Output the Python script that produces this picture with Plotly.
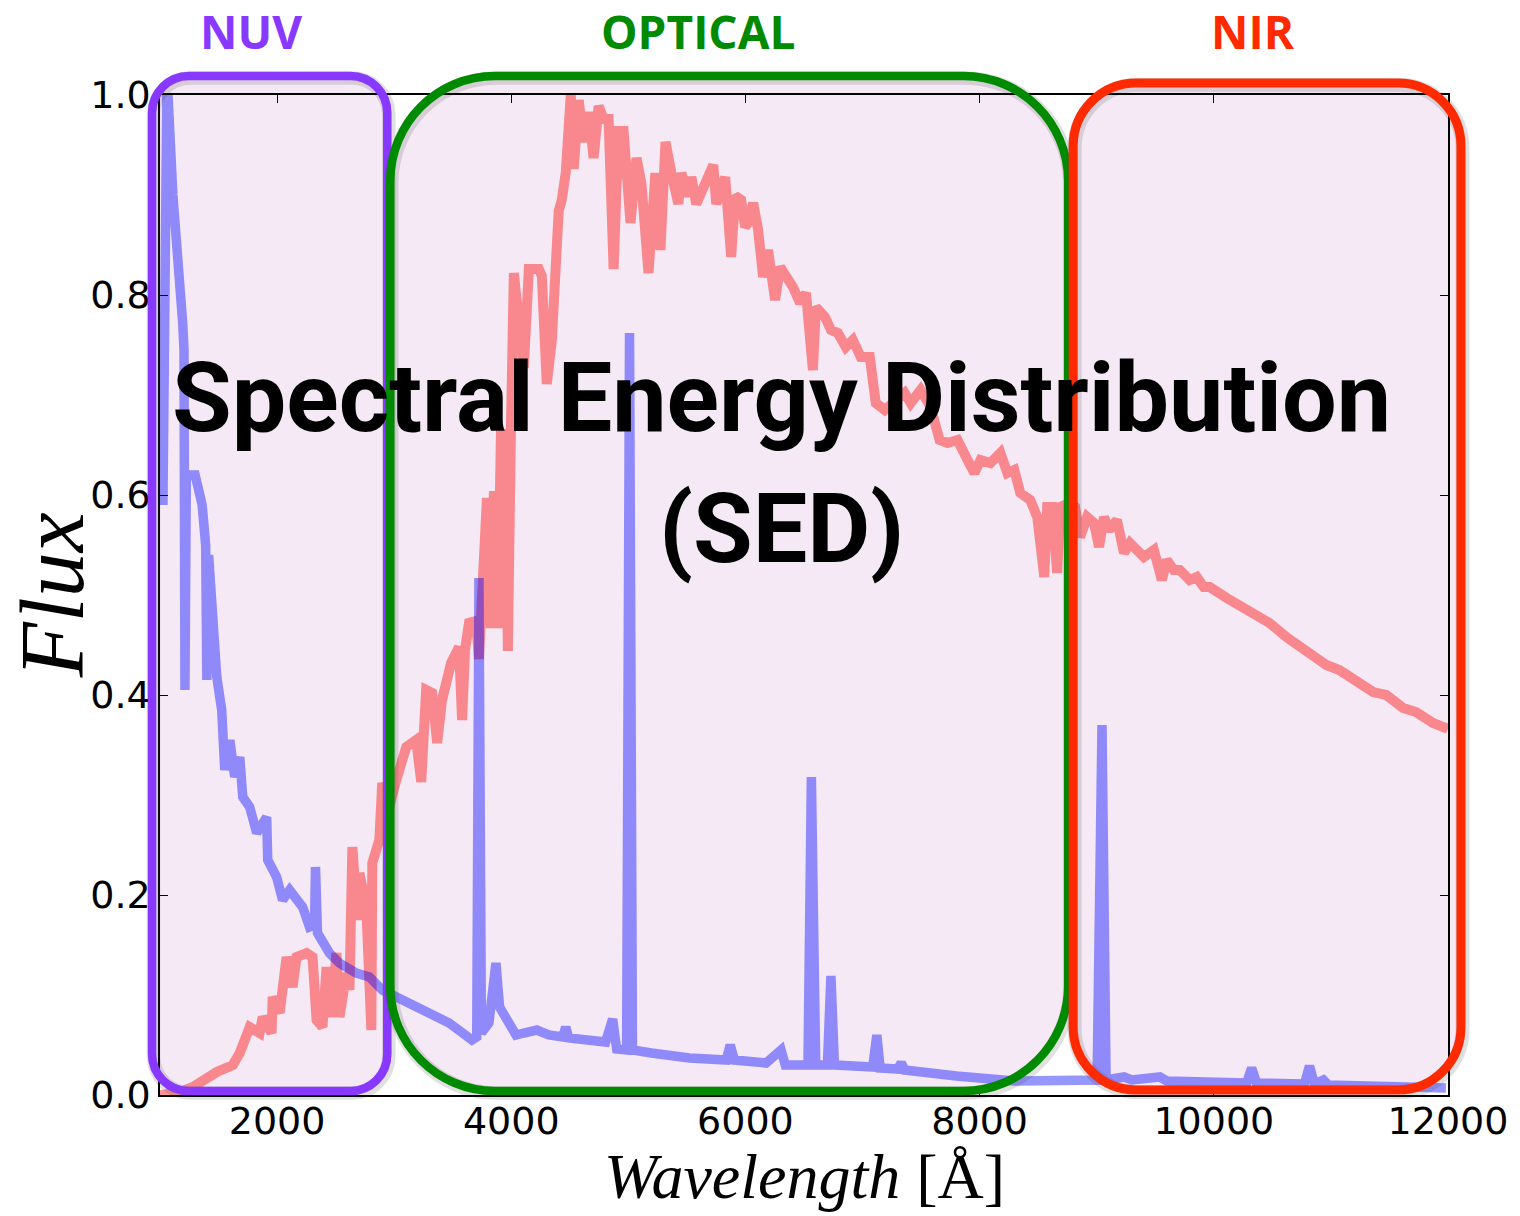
import plotly.graph_objects as go

# ---------------- data ----------------
red_wave = [1000, 1150, 1281, 1485, 1622, 1681, 1766, 1851, 1877, 1953, 1962, 2022, 2081, 2132, 2166,
            2252, 2303, 2337, 2388, 2422, 2464, 2507, 2533, 2592, 2618, 2643, 2686, 2703, 2762, 2805,
            2813, 2873, 2898, 2958, 3018, 3103, 3188, 3231, 3273, 3324, 3367, 3409, 3486, 3554, 3580,
            3605, 3639, 3699, 3724, 3767, 3792, 3826, 3852, 3886, 3912, 3954, 3971, 3997, 4005, 4022,
            4065, 4107, 4150, 4235, 4261, 4303, 4346, 4380, 4405, 4431, 4465, 4508, 4533, 4576, 4618,
            4661, 4703, 4746, 4789, 4831, 4874, 4916, 4959, 5018, 5070, 5112, 5172, 5231, 5274, 5317,
            5342, 5367, 5427, 5453, 5512, 5538, 5580, 5657, 5725, 5751, 5827, 5878, 5912, 5963, 5997,
            6023, 6066, 6108, 6151, 6193, 6253, 6296, 6364, 6406, 6466, 6517, 6576, 6602, 6679, 6730,
            6789, 6857, 6917, 6985, 7062, 7113, 7190, 7360, 7411, 7496, 7581, 7658, 7726, 7811, 7896,
            7956, 8007, 8092, 8177, 8237, 8296, 8347, 8432, 8492, 8552, 8577, 8620, 8662, 8688, 8773,
            8815, 8858, 8918, 8977, 9020, 9062, 9105, 9173, 9233, 9284, 9403, 9488, 9556, 9599, 9658,
            9709, 9794, 9854, 9914, 9965, 10110, 10220, 10365, 10476, 10620, 10731, 10850, 10961,
            11072, 11216, 11361, 11472, 11617, 11727, 11872, 11982, 12000]
red_flux = [0.000, 0.002, 0.008, 0.023, 0.030, 0.042, 0.068, 0.062, 0.078, 0.062, 0.098, 0.082, 0.138, 0.108, 0.138,
            0.142, 0.138, 0.075, 0.068, 0.128, 0.078, 0.142, 0.078, 0.122, 0.105, 0.248, 0.175, 0.222, 0.188, 0.065,
            0.232, 0.255, 0.312, 0.288, 0.315, 0.348, 0.355, 0.313, 0.405, 0.402, 0.352, 0.395, 0.432, 0.448, 0.375,
            0.445, 0.472, 0.474, 0.436, 0.516, 0.597, 0.467, 0.604, 0.467, 0.666, 0.601, 0.444, 0.666, 0.819, 0.822,
            0.773, 0.727, 0.826, 0.826, 0.819, 0.711, 0.754, 0.865, 0.884, 0.895, 0.922, 1.000, 0.926, 0.995, 0.953,
            0.983, 0.937, 0.989, 0.976, 0.976, 0.826, 0.964, 0.964, 0.872, 0.937, 0.911, 0.822, 0.922, 0.845, 0.953,
            0.933, 0.922, 0.891, 0.922, 0.899, 0.918, 0.891, 0.911, 0.930, 0.891, 0.918, 0.838, 0.899, 0.895, 0.868,
            0.872, 0.892, 0.865, 0.818, 0.845, 0.795, 0.828, 0.818, 0.808, 0.792, 0.802, 0.725, 0.788, 0.778, 0.765,
            0.762, 0.748, 0.755, 0.738, 0.738, 0.692, 0.685, 0.702, 0.692, 0.705, 0.688, 0.655, 0.652, 0.655, 0.635,
            0.622, 0.635, 0.632, 0.642, 0.622, 0.625, 0.602, 0.595, 0.578, 0.518, 0.588, 0.588, 0.522, 0.588, 0.592,
            0.588, 0.558, 0.578, 0.572, 0.548, 0.578, 0.565, 0.575, 0.542, 0.552, 0.538, 0.545, 0.515, 0.535, 0.525,
            0.525, 0.515, 0.518, 0.508, 0.508, 0.497, 0.490, 0.478, 0.472, 0.458, 0.448, 0.438, 0.430,
            0.425, 0.415, 0.403, 0.400, 0.387, 0.383, 0.372, 0.367, 0.366]

blue_wave = [1025, 1060, 1110, 1170, 1195, 1205, 1213, 1225, 1300, 1360, 1390, 1400, 1415, 1440, 1485,
             1527, 1553, 1596, 1638, 1681, 1707, 1766, 1826, 1911, 1920, 1996, 2047, 2107, 2218, 2277,
             2320, 2328, 2345, 2447, 2532, 2677, 2788, 2899, 3188, 3469, 3665, 3705, 3724, 3745, 3809,
             3869, 3900, 3971, 4040, 4107, 4218, 4320, 4440, 4465, 4490, 4806, 4866, 4900, 4985, 5010,
             5035, 5197, 5521, 5836, 5870, 5905, 6176, 6304, 6340, 6534, 6563, 6600, 6700, 6730, 6760,
             7087, 7122, 7150, 7300, 7330, 7360, 7802, 8296, 9003, 9045, 9080, 9233, 9300, 9539, 9599,
             10280, 10323, 10365, 10774, 10817, 10859, 10936, 10978, 11982]
blue_flux = [0.59, 1.02, 0.90, 0.82, 0.77, 0.745, 0.405, 0.62, 0.62, 0.59, 0.55, 0.415, 0.54, 0.495, 0.418,
             0.385, 0.325, 0.355, 0.318, 0.338, 0.298, 0.288, 0.262, 0.278, 0.235, 0.218, 0.195, 0.205, 0.188, 0.168,
             0.170, 0.228, 0.162, 0.142, 0.132, 0.122, 0.118, 0.105, 0.088, 0.072, 0.055, 0.058, 0.517, 0.062, 0.072,
             0.132, 0.088, 0.075, 0.060, 0.062, 0.065, 0.060, 0.058, 0.068, 0.057, 0.053, 0.076, 0.046, 0.045, 0.762,
             0.045, 0.042, 0.037, 0.035, 0.050, 0.035, 0.032, 0.045, 0.030, 0.030, 0.318, 0.030, 0.030, 0.119, 0.030,
             0.028, 0.060, 0.027, 0.026, 0.032, 0.025, 0.019, 0.014, 0.015, 0.370, 0.015, 0.018, 0.015, 0.018, 0.014,
             0.012, 0.027, 0.012, 0.011, 0.029, 0.011, 0.015, 0.010, 0.007]

x_ticks = [2000, 4000, 6000, 8000, 10000, 12000]
y_ticks = [0.0, 0.2, 0.4, 0.6, 0.8, 1.0]
region_names = ["NUV", "OPTICAL", "NIR"]
region_colors = ["#8838ff", "#008a00", "#ff2a00"]
title_lines = ["Spectral Energy Distribution", "(SED)"]

# ---------------- layout geometry ----------------
W, H = 1520, 1216
ML, MR, MT, MB = 160, 68, 95, 121
PW, PH = W - ML - MR, H - MT - MB


def to_paper(px, py):
    return (px - ML) / PW, (H - MB - py) / PH


def rrect(l, t, r, b, rad, dx=0.0, dy=0.0):
    l, r, t, b = l + dx, r + dx, t + dy, b + dy
    k = 0.5523 * rad
    pts = [("M", [(l + rad, t)]),
           ("L", [(r - rad, t)]),
           ("C", [(r - rad + k, t), (r, t + rad - k), (r, t + rad)]),
           ("L", [(r, b - rad)]),
           ("C", [(r, b - rad + k), (r - rad + k, b), (r - rad, b)]),
           ("L", [(l + rad, b)]),
           ("C", [(l + rad - k, b), (l, b - rad + k), (l, b - rad)]),
           ("L", [(l, t + rad)]),
           ("C", [(l, t + rad - k), (l + rad - k, t), (l + rad, t)])]
    s = ""
    for cmd, pl in pts:
        s += cmd + " ".join("%.5f,%.5f" % to_paper(x, y) for x, y in pl) + " "
    return s + "Z"


boxes = [  # left, top, right, bottom, radius, line width (pixels)
    (152, 76, 388, 1091, 37, 8.5),
    (391, 76, 1071, 1091, 105, 8.5),
    (1076, 83, 1465, 1090, 63, 9),
]
label_x = [251, 700, 1256]

shapes = []
for (l, t, r, b, rad, lw) in boxes:
    shapes.append(dict(type="path", path=rrect(l, t, r, b, rad), xref="paper", yref="paper",
                       layer="below", fillcolor="#f5e9f5", line=dict(width=0)))
for (l, t, r, b, rad, lw), col in zip(boxes, region_colors):
    shapes.append(dict(type="path", path=rrect(l, t, r, b, rad, 1.5, 2.0), xref="paper", yref="paper",
                       layer="above", fillcolor="rgba(0,0,0,0)",
                       line=dict(width=lw + 5, color="rgba(60,60,60,0.16)")))
    shapes.append(dict(type="path", path=rrect(l, t, r, b, rad), xref="paper", yref="paper",
                       layer="above", fillcolor="rgba(0,0,0,0)", line=dict(width=lw, color=col)))

fig = go.Figure()
fig.add_trace(go.Scatter(x=red_wave, y=red_flux, mode="lines",
                         line=dict(color="rgba(255,0,0,0.42)", width=10), showlegend=False))
fig.add_trace(go.Scatter(x=blue_wave, y=blue_flux, mode="lines",
                         line=dict(color="rgba(0,0,255,0.41)", width=9.5), showlegend=False))

annotations = []
for name, col, lx in zip(region_names, region_colors, label_x):
    u, v = to_paper(lx, 31)
    annotations.append(dict(text="<b>%s</b>" % name, x=u, y=v, xref="paper", yref="paper",
                            showarrow=False, xanchor="center", yanchor="middle",
                            font=dict(family="Open Sans", size=46, color=col)))
for line, cy in zip(title_lines, [398, 529]):
    u, v = to_paper(783, cy)
    annotations.append(dict(text="<b>%s</b>" % line, x=u, y=v, xref="paper", yref="paper",
                            showarrow=False, xanchor="center", yanchor="middle",
                            font=dict(family="Roboto", size=97, color="black")))
u, v = to_paper(52, 595)
annotations.append(dict(text="<i>Flux</i>", x=u, y=v, xref="paper", yref="paper", textangle=-90,
                        showarrow=False, xanchor="center", yanchor="middle",
                        font=dict(family="Liberation Serif", size=90, color="black")))
u, v = to_paper(806, 1176)
annotations.append(dict(text="<i>Wavelength</i> [Å]", x=u, y=v, xref="paper", yref="paper",
                        showarrow=False, xanchor="center", yanchor="middle",
                        font=dict(family="Liberation Serif", size=64, color="black")))

axis_common = dict(showline=True, linecolor="black", linewidth=1.5, mirror="ticks",
                   ticks="inside", ticklen=8, tickwidth=1.2, tickcolor="black",
                   showgrid=False, zeroline=False,
                   tickfont=dict(family="DejaVu Sans", size=38, color="black"))

fig.update_layout(
    width=W, height=H,
    margin=dict(l=ML, r=MR, t=MT, b=MB),
    paper_bgcolor="white", plot_bgcolor="rgba(0,0,0,0)",
    shapes=shapes, annotations=annotations,
    xaxis=dict(range=[1000, 12000], tickvals=x_ticks, ticktext=[str(t) for t in x_ticks],
               ticklabelstandoff=-8, **axis_common),
    yaxis=dict(range=[0, 1], tickvals=y_ticks, ticktext=["%.1f" % t for t in y_ticks], **axis_common),
)

fig.write_html("out.html")
